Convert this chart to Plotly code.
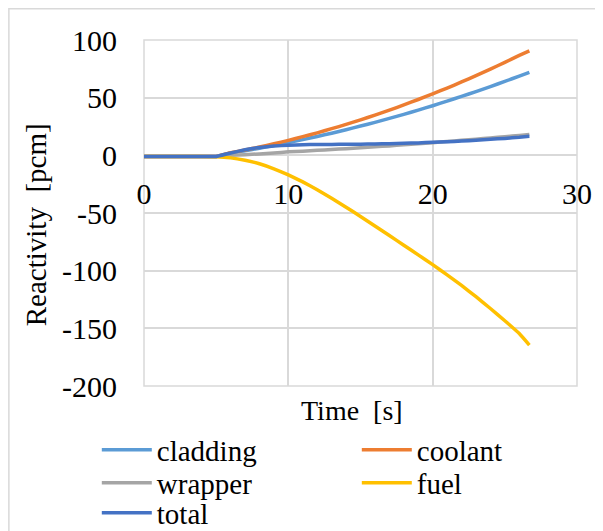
import plotly.graph_objects as go

time_s = [0, 1, 2, 3, 4, 5, 6, 7, 8, 9, 10, 11, 12, 13, 14, 15, 16, 17, 18, 19, 20, 21, 22, 23, 24, 25, 26, 26.7]

cladding = [-1, -1, -1, -1, -1, -1, 1.9, 4.0, 6.2, 8.5, 11, 13.6, 16.4, 19.2, 22.2, 25.4, 28.6, 32, 35.5, 39.2, 43, 47, 51.1, 55.3, 59.6, 64.1, 68.7, 72]
coolant = [-1, -1, -1, -1, -1, -1, 2.2, 4.6, 7.2, 10.0, 13, 16.2, 19.5, 23.1, 26.8, 30.7, 34.9, 39.2, 43.7, 48.4, 53.3, 58.3, 63.6, 69.1, 74.7, 80.6, 86.6, 90.5]
wrapper = [-1, -1, -1, -1, -1, -1, 0, 0.6, 1.2, 2, 3, 3.6, 4.3, 5, 5.8, 6.6, 7.4, 8.2, 9.1, 10, 11, 12, 13, 14, 15.1, 16.2, 17.2, 18]
fuel = [-1, -1, -1, -1, -1, -1.2, -2.2, -4.3, -7.3, -11.7, -17, -23, -29.8, -37.2, -45, -53, -61.2, -69.5, -77.9, -86.3, -94.8, -103.6, -112.8, -122.6, -132.8, -143.4, -154.5, -164.5]
total = [-1, -1, -1, -1, -1, -1, 2, 4.8, 6.8, 8, 8.8, 9.2, 9.4, 9.5, 9.6, 9.7, 9.9, 10.1, 10.4, 10.8, 11.3, 11.8, 12.4, 13.1, 13.9, 14.7, 15.6, 16.5]

series_names = ["cladding", "coolant", "wrapper", "fuel", "total"]
series_values = [cladding, coolant, wrapper, fuel, total]
series_colors = ["#5B9BD5", "#ED7D31", "#A5A5A5", "#FFC000", "#4472C4"]
legend_rows = ["legend", "legend", "legend2", "legend2", "legend3"]

x_ticks = [0, 10, 20, 30]
x_labels = ["0", "10", "20", "30"]
y_ticks = [100, 50, 0, -50, -100, -150, -200]
y_labels = ["100", "50", "0", "-50", "-100", "-150", "-200"]

FONT = "Liberation Serif, Times New Roman, serif"

# page body has an 8px margin; figure is sized/offset so the plot lands where the reference has it
fig = go.Figure()
for name, vals, col, lg in zip(series_names, series_values, series_colors, legend_rows):
    fig.add_trace(go.Scatter(x=time_s, y=vals, name=name, mode="lines", legend=lg,
                             line=dict(color=col, width=3.5, shape="spline", smoothing=0.3)))

grid = "#D9D9D9"


def legend_row(ycenter_px):
    return dict(orientation="h", x=-0.109, xanchor="left", y=(386 - ycenter_px) / 346,
                yanchor="middle", entrywidth=195, entrywidthmode="pixels",
                font=dict(family=FONT, size=29, color="black"),
                bgcolor="rgba(0,0,0,0)", itemwidth=50)


fig.update_layout(
    width=595, height=523,
    margin=dict(l=136, r=26, t=32, b=145, autoexpand=False),
    paper_bgcolor="white", plot_bgcolor="white",
    font=dict(family=FONT, size=28, color="black"),
    showlegend=True,
    legend=legend_row(450),
    legend2=legend_row(483),
    legend3=legend_row(513),
    xaxis=dict(range=[0, 30], tickvals=x_ticks, ticktext=x_labels, showgrid=True, gridcolor=grid,
               gridwidth=1.5, zeroline=False, showline=False, ticks="", anchor="free",
               position=200/300, tickfont=dict(family=FONT, size=30), ticklabelstandoff=18),
    yaxis=dict(range=[-200, 100], tickvals=y_ticks, ticktext=y_labels, showgrid=True, gridcolor=grid,
               gridwidth=1.5, zeroline=True, zerolinecolor=grid, zerolinewidth=1.5, showline=False,
               ticks="", tickfont=dict(family=FONT, size=30), ticklabelstandoff=26),
    annotations=[
        dict(text="Time  [s]", xref="paper", yref="paper", x=0.480, y=-0.072,
             showarrow=False, font=dict(family=FONT, size=28), xanchor="center", yanchor="middle"),
        dict(text="Reactivity  [pcm]", xref="paper", yref="paper", x=-0.249, y=0.465,
             textangle=-90, showarrow=False, font=dict(family=FONT, size=29),
             xanchor="center", yanchor="middle"),
    ],
    shapes=[
        dict(type="rect", xref="paper", yref="paper", x0=0, x1=1, y0=0, y1=1,
             line=dict(color=grid, width=1.5), layer="below"),
        dict(type="rect", xref="paper", yref="paper", x0=-136 / 433 + 0.002, x1=1.2,
             y0=-0.5, y1=1 + 32 / 346 - 0.002, line=dict(color=grid, width=1.5), layer="below"),
    ],
)

fig.write_html("out.html")
